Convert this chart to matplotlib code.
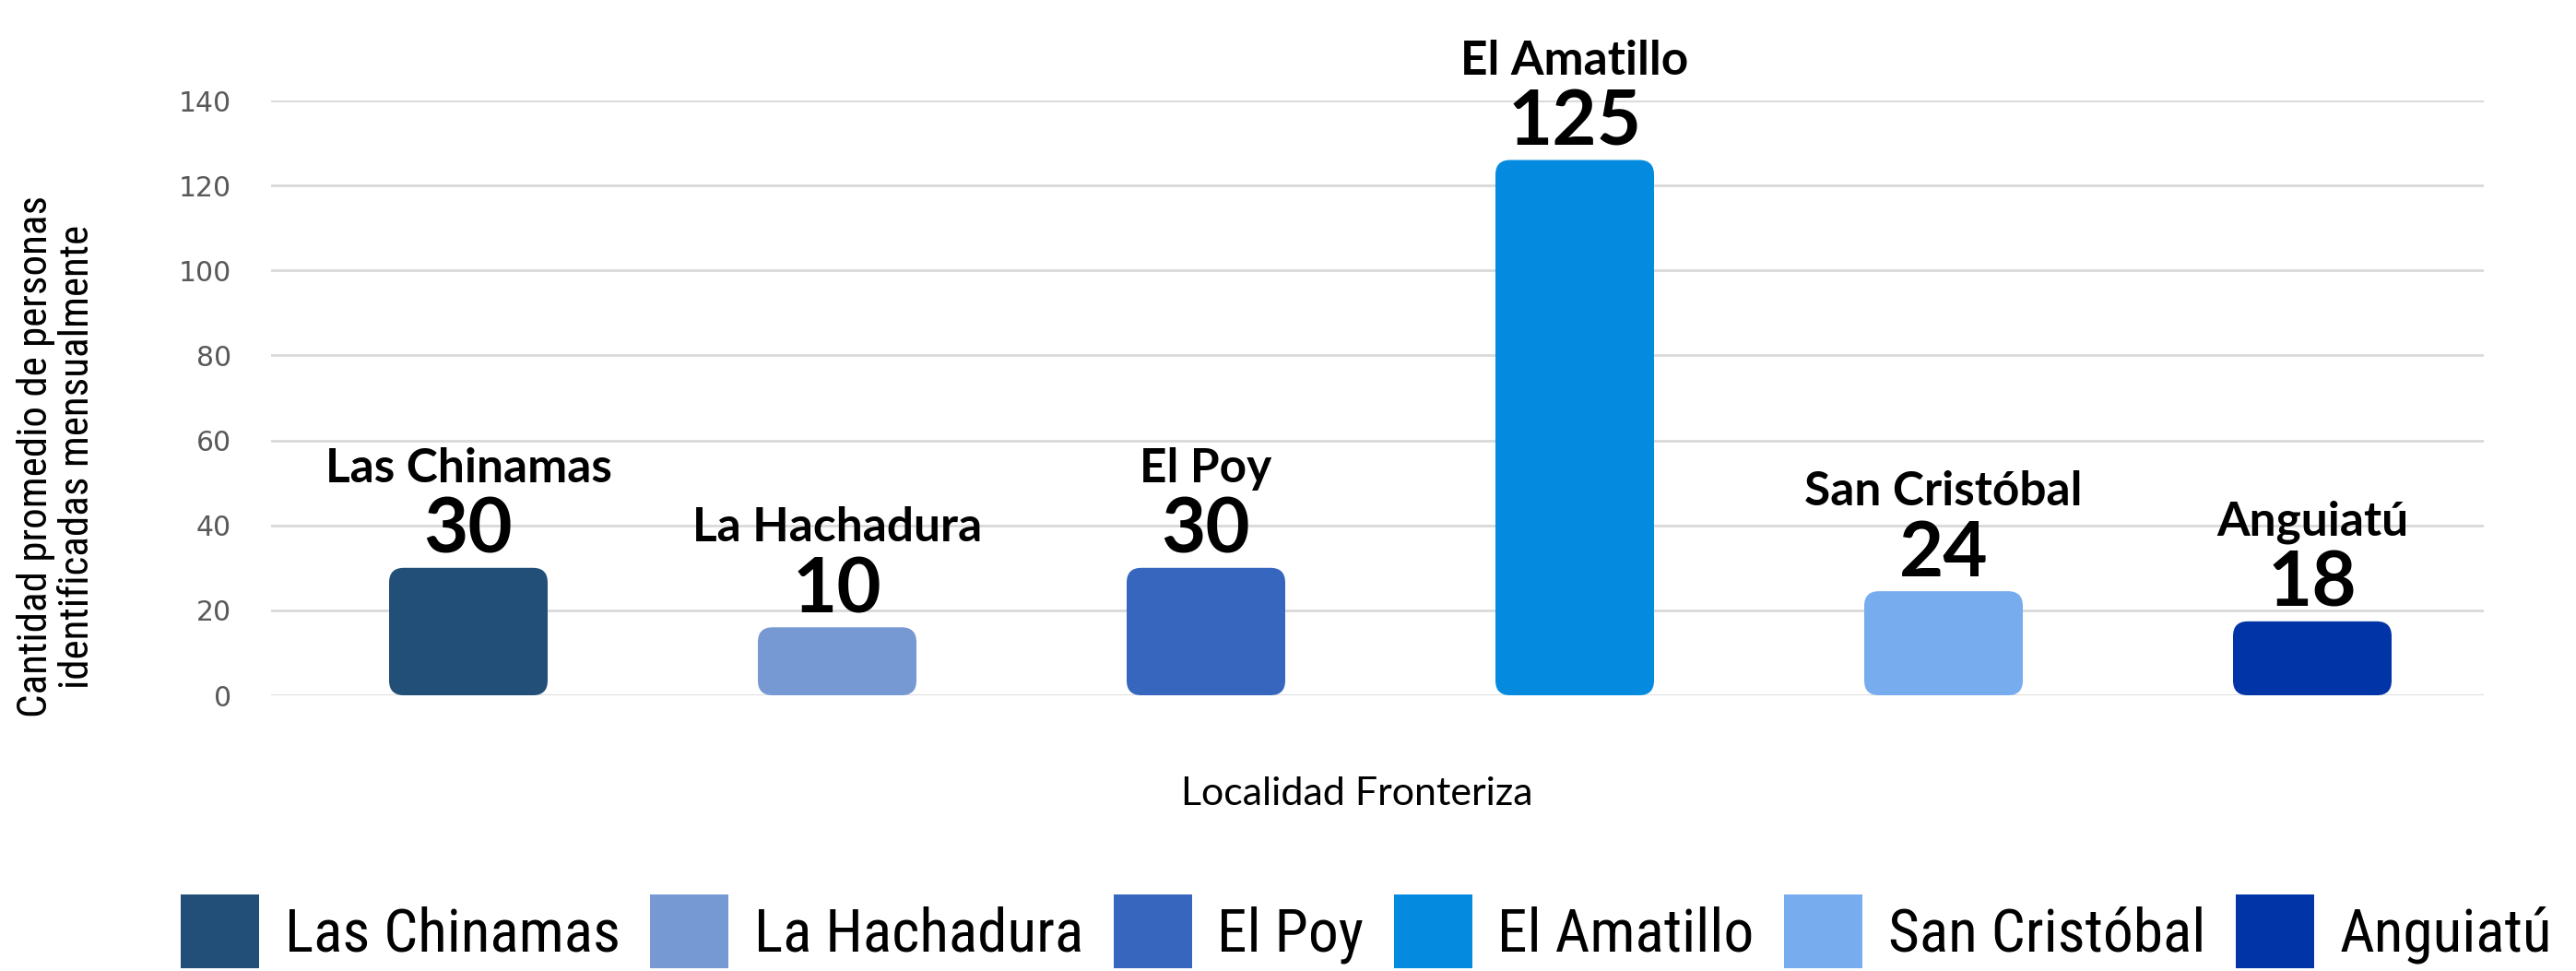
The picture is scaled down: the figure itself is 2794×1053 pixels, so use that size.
import matplotlib
matplotlib.use("Agg")
import matplotlib.pyplot as plt
import matplotlib.font_manager as fm
from matplotlib.patches import FancyBboxPatch, BoxStyle

# ---------------- data ----------------
categories = ["Las Chinamas", "La Hachadura", "El Poy", "El Amatillo", "San Cristóbal", "Anguiatú"]
bar_heights = [30, 16, 30, 126, 24.5, 17.4]          # bar heights as drawn in the reference
value_labels = ["30", "10", "30", "125", "24", "18"]  # data labels printed above the bars
colors = ["#224F78", "#7799D3", "#3666BD", "#048BE0", "#77ADEE", "#0134A6"]
yticks = [0, 20, 40, 60, 80, 100, 120, 140]
ylabel_text = "Cantidad promedio de personas\nidentificadas mensualmente"
xlabel_text = "Localidad Fronteriza"

# ---------------- fonts ----------------
def find_narrow():
    good = ("condensed", "semi-condensed", "extra-condensed")
    prefs = ["Noto Sans", "Open Sans", "Liberation Sans Narrow", "Roboto", "Lato", "DejaVu Sans", "Inter"]
    found = {}
    for f in fm.fontManager.ttflist:
        st = f.stretch
        is_narrow = (isinstance(st, str) and st in good) or (isinstance(st, (int, float)) and st < 500) \
            or "Narrow" in f.name or "Condensed" in f.name or "Condensed" in f.fname or "Narrow" in f.fname
        if not is_narrow:
            continue
        if f.style != "normal":
            continue
        w = f.weight
        if w not in (400, "normal", "regular", "book"):
            continue
        if "Extra" in f.fname or "Semi" in f.fname or "Ultra" in f.fname:
            rank = 1
        else:
            rank = 0
        key = f.name
        if key not in found or rank < found[key][0]:
            found[key] = (rank, f.fname)
    for p in prefs:
        for k, v in found.items():
            if k.startswith(p):
                return v[1]
    if found:
        return sorted(found.values())[0][1]
    return None

narrow_path = find_narrow()
def narrow_prop(size):
    if narrow_path:
        return fm.FontProperties(fname=narrow_path, size=size)
    return fm.FontProperties(family="Noto Sans", size=size * 0.85)

W, H = 2794, 1053
fig = plt.figure(figsize=(W / 100, H / 100), dpi=100)
ax = fig.add_axes([294 / W, (H - 754) / H, 2400 / W, (754 - 109) / H])

ax.set_xlim(-0.535, 5.465)
ax.set_ylim(0, 140)
ax.set_yticks(yticks)
ax.set_xticks([])
for s in ax.spines.values():
    s.set_visible(False)
ax.grid(axis="y", color="#D9D9D9", linewidth=2.0)
ax.set_axisbelow(True)
ax.tick_params(axis="y", length=0, pad=31, labelsize=21.5, labelcolor="#595959")
for t in ax.get_yticklabels():
    t.set_fontfamily("DejaVu Sans")

# pixel scales for rounded corners
p0 = ax.transData.transform((0, 0))
p1 = ax.transData.transform((1, 1))
px_x = p1[0] - p0[0]
px_y = p1[1] - p0[1]
radius_px = 16
r_x = radius_px / px_x
aspect = (radius_px / px_y) / r_x

bars = ax.bar(range(len(categories)), bar_heights, width=0.43, color=colors)
patches = []
for rect, c, lab in zip(bars, colors, categories):
    x, w, h = rect.get_x(), rect.get_width(), rect.get_height()
    rect.remove()
    fp = FancyBboxPatch((x, 0), w, h, boxstyle=BoxStyle.Round(pad=0, rounding_size=r_x),
                        mutation_aspect=aspect, facecolor=c, edgecolor="none", zorder=2, label=lab)
    ax.add_patch(fp)
    patches.append(fp)

for i, (h, v, name) in enumerate(zip(bar_heights, value_labels, categories)):
    ax.annotate(v, xy=(i, h), xytext=(0, 16), textcoords="offset pixels", ha="center", va="baseline",
                fontsize=60, fontweight="bold", family="Lato", color="black", annotation_clip=False)
    ax.annotate(name, xy=(i, h), xytext=(0, 93), textcoords="offset pixels", ha="center", va="baseline",
                fontsize=37, fontweight="bold", family="Lato", color="black", annotation_clip=False)

# axis titles
fig.text(1472 / W, (H - 861) / H, xlabel_text, ha="center", va="center", fontsize=31, family="Lato")

yl_size = 30
ylab = fig.text(0.0115, (H - 495) / H, ylabel_text, rotation=90, ha="center", va="center",
                fontproperties=narrow_prop(yl_size), linespacing=1.1, multialignment="center")
fig.canvas.draw()
bb = ylab.get_window_extent()
scale = 565 / bb.height
ylab.set_fontproperties(narrow_prop(yl_size * scale))
fig.canvas.draw()
bb = ylab.get_window_extent()
ylab.set_position((bb.width / 2 / W + 18 / W, (H - 495) / H))

# legend, sized to span the reference width
leg_size = 52
def make_leg(size):
    return fig.legend(handles=patches, labels=categories, loc="center", bbox_to_anchor=(1482 / W, 1 - 1010 / H),
                      ncol=6, frameon=False, prop=narrow_prop(size), handlelength=1.3, handleheight=1.5,
                      handletextpad=0.42, columnspacing=0.5, borderaxespad=0, borderpad=0)
leg = make_leg(leg_size)
for _ in range(2):
    fig.canvas.draw()
    wpx = leg.get_window_extent().width
    leg_size = leg_size * (2570 / wpx)
    leg.remove()
    leg = make_leg(leg_size)

fig.savefig("out.png", dpi=100)
